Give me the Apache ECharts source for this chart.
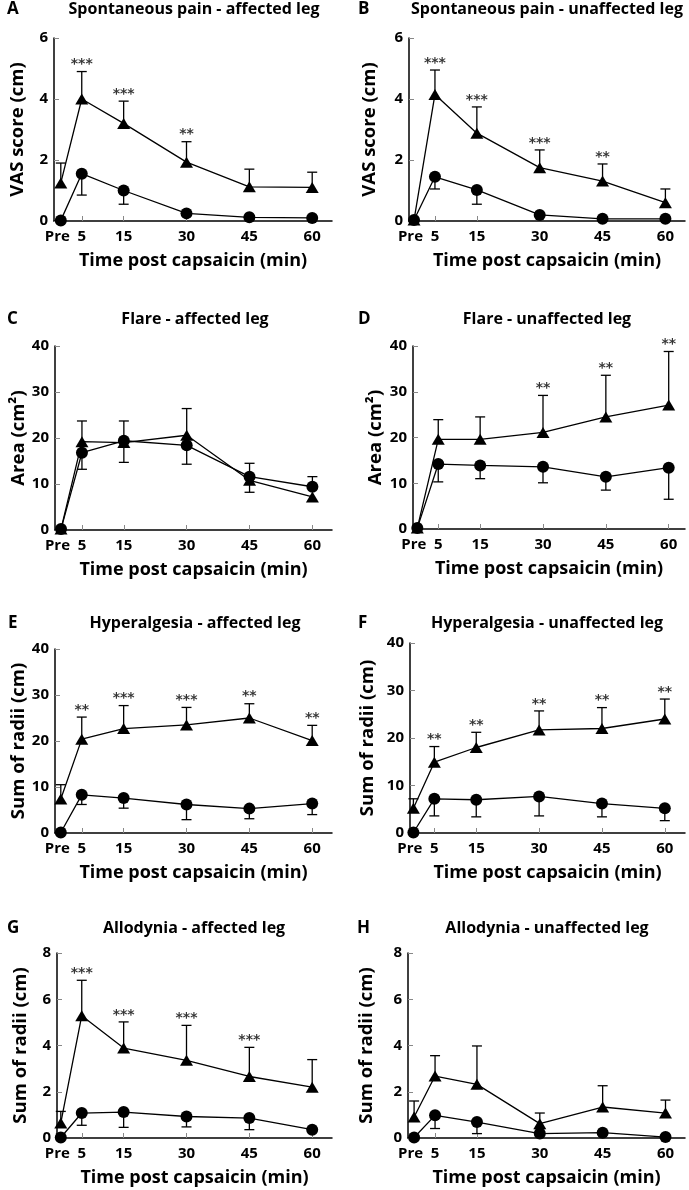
<!DOCTYPE html>
<html>
<head>
<meta charset="utf-8">
<script src="https://cdn.jsdelivr.net/npm/echarts@6/dist/echarts.min.js"></script>
<style>
  html, body { margin: 0; padding: 0; background: #fff; }
  #main { width: 689px; height: 1190px; }
</style>
</head>
<body>
<div id="main"></div>
<script>
// time points (Pre is drawn at 0 min)
const times = [0, 5, 15, 30, 45, 60];
const timeLabels = ['Pre', '5', '15', '30', '45', '60'];

// A - spontaneous pain, affected leg
const aTri = [1.25, 4.0, 3.2, 1.93, 1.12, 1.1];
const aTriCap = [1.9, 4.9, 3.93, 2.6, 1.7, 1.6];
const aCir = [0.02, 1.55, 1.0, 0.25, 0.12, 0.1];
const aCirCap = [null, 0.85, 0.55, null, null, null];
const aStars = ['', '***', '***', '**', '', ''];

// B - spontaneous pain, unaffected leg
const bTri = [0.03, 4.15, 2.88, 1.75, 1.31, 0.6];
const bTriCap = [null, 4.95, 3.74, 2.33, 1.87, 1.05];
const bCir = [0.03, 1.45, 1.02, 0.2, 0.07, 0.07];
const bCirCap = [null, 1.05, 0.55, null, null, null];
const bStars = ['', '***', '***', '***', '**', ''];

// C - flare, affected leg
const cTri = [0.2, 19.2, 19.0, 20.6, 10.8, 7.2];
const cTriCap = [null, 23.7, 23.7, 26.4, 14.5, null];
const cCir = [0.2, 16.8, 19.4, 18.4, 11.6, 9.4];
const cCirCap = [null, 13.2, 14.7, 14.3, 8.2, 11.6];
const cStars = ['', '', '', '', '', ''];

// D - flare, unaffected leg
const dTri = [0.2, 19.6, 19.6, 21.1, 24.5, 27.1];
const dTriCap = [null, 23.9, 24.5, 29.2, 33.6, 38.8];
const dCir = [0.2, 14.2, 13.9, 13.6, 11.4, 13.4];
const dCirCap = [null, 10.3, 11.0, 10.1, 8.5, 6.5];
const dStars = ['', '', '', '**', '**', '**'];

// E - hyperalgesia, affected leg
const eTri = [7.4, 20.4, 22.7, 23.5, 25.0, 20.1];
const eTriCap = [10.5, 25.2, 27.7, 27.3, 28.1, 23.4];
const eCir = [0.1, 8.3, 7.6, 6.2, 5.3, 6.4];
const eCirCap = [null, 6.2, 5.4, 2.9, 3.1, 4.0];
const eStars = ['', '**', '***', '***', '**', '**'];

// F - hyperalgesia, unaffected leg
const fTri = [5.2, 14.9, 18.0, 21.7, 22.0, 24.0];
const fTriCap = [7.2, 18.2, 21.2, 25.7, 26.4, 28.2];
const fCir = [0.1, 7.2, 7.0, 7.7, 6.2, 5.2];
const fCirCap = [null, 3.6, 3.4, 3.6, 3.4, 2.6];
const fStars = ['', '**', '**', '**', '**', '**'];

// G - allodynia, affected leg
const gTri = [0.65, 5.29, 3.89, 3.36, 2.66, 2.2];
const gTriCap = [1.15, 6.82, 5.02, 4.87, 3.92, 3.39];
const gCir = [0.02, 1.08, 1.12, 0.93, 0.86, 0.36];
const gCirCap = [null, 0.55, 0.46, 0.48, 0.36, null];
const gStars = ['', '***', '***', '***', '***', ''];

// H - allodynia, unaffected leg
const hTri = [0.91, 2.68, 2.32, 0.62, 1.34, 1.08];
const hTriCap = [1.6, 3.56, 3.98, 1.08, 2.26, 1.64];
const hCir = [0.02, 0.98, 0.69, 0.19, 0.23, 0.04];
const hCirCap = [null, 0.41, 0.19, null, null, null];
const hStars = ['', '', '', '', '', ''];

const panels = [
  { letter: 'A', title: 'Spontaneous pain - affected leg', yName: 'VAS score (cm)', yMax: 6, yStep: 2, tri: aTri, triCap: aTriCap, cir: aCir, cirCap: aCirCap, stars: aStars },
  { letter: 'B', title: 'Spontaneous pain - unaffected leg', yName: 'VAS score (cm)', yMax: 6, yStep: 2, tri: bTri, triCap: bTriCap, cir: bCir, cirCap: bCirCap, stars: bStars },
  { letter: 'C', title: 'Flare - affected leg', yName: 'Area (cm²)', yMax: 40, yStep: 10, tri: cTri, triCap: cTriCap, cir: cCir, cirCap: cCirCap, stars: cStars },
  { letter: 'D', title: 'Flare - unaffected leg', yName: 'Area (cm²)', yMax: 40, yStep: 10, tri: dTri, triCap: dTriCap, cir: dCir, cirCap: dCirCap, stars: dStars },
  { letter: 'E', title: 'Hyperalgesia - affected leg', yName: 'Sum of radii (cm)', yMax: 40, yStep: 10, tri: eTri, triCap: eTriCap, cir: eCir, cirCap: eCirCap, stars: eStars },
  { letter: 'F', title: 'Hyperalgesia - unaffected leg', yName: 'Sum of radii (cm)', yMax: 40, yStep: 10, tri: fTri, triCap: fTriCap, cir: fCir, cirCap: fCirCap, stars: fStars },
  { letter: 'G', title: 'Allodynia - affected leg', yName: 'Sum of radii (cm)', yMax: 8, yStep: 2, tri: gTri, triCap: gTriCap, cir: gCir, cirCap: gCirCap, stars: gStars },
  { letter: 'H', title: 'Allodynia - unaffected leg', yName: 'Sum of radii (cm)', yMax: 8, yStep: 2, tri: hTri, triCap: hTriCap, cir: hCir, cirCap: hCirCap, stars: hStars }
];

// panel placement in pixels
const layout = [
  { left: 54, top: 38, width: 278, height: 183, zeroX: 60.8, titleX: 194, titleY: 11, letterX: 7, nameDist: 37 },
  { left: 409, top: 38, width: 276, height: 183, zeroX: 414, titleX: 547, titleY: 11, letterX: 358, nameDist: 40 },
  { left: 55, top: 346, width: 277, height: 184, zeroX: 61, titleX: 195, titleY: 321, letterX: 7, nameDist: 32 },
  { left: 413, top: 346, width: 272, height: 183, zeroX: 417.3, titleX: 547, titleY: 321, letterX: 358, nameDist: 38 },
  { left: 55, top: 649, width: 277, height: 184, zeroX: 60.8, titleX: 195, titleY: 625, letterX: 8, nameDist: 35 },
  { left: 410, top: 643, width: 275, height: 190, zeroX: 413.4, titleX: 547, titleY: 625, letterX: 358, nameDist: 43 },
  { left: 57, top: 953, width: 275, height: 185, zeroX: 60.8, titleX: 194, titleY: 930, letterX: 7, nameDist: 37 },
  { left: 408, top: 953, width: 277, height: 185, zeroX: 414.1, titleX: 547, titleY: 930, letterX: 357, nameDist: 42 }
];
const pxPerMin = 4.19;
const font = '"Open Sans", Lato, sans-serif';

function renderErr(params, api) {
  const x = api.value(0), y = api.value(1), cap = api.value(2);
  const p0 = api.coord([x, y]);
  const p1 = api.coord([x, cap]);
  const hw = 5;
  const st = { stroke: '#000', lineWidth: 1.3 };
  return {
    type: 'group',
    children: [
      { type: 'line', shape: { x1: p0[0], y1: p0[1], x2: p1[0], y2: p1[1] }, style: st },
      { type: 'line', shape: { x1: p1[0] - hw, y1: p1[1], x2: p1[0] + hw, y2: p1[1] }, style: st }
    ]
  };
}

const titles = [], grids = [], xAxes = [], yAxes = [], series = [];

panels.forEach(function (p, i) {
  const L = layout[i];
  titles.push({
    text: p.title, left: L.titleX, top: L.titleY - 10, textAlign: 'center', padding: 0,
    textStyle: { fontFamily: font, fontWeight: 'bold', fontSize: 16, color: '#000' }
  });
  titles.push({
    text: p.letter, left: L.letterX, top: L.titleY - 10, padding: 0,
    textStyle: { fontFamily: font, fontWeight: 'bold', fontSize: 17, color: '#000' }
  });
  grids.push({ left: L.left, top: L.top, width: L.width, height: L.height, containLabel: false });
  xAxes.push({
    type: 'value', gridIndex: i,
    min: (L.left - L.zeroX) / pxPerMin,
    max: (L.left + L.width - L.zeroX) / pxPerMin,
    name: 'Time post capsaicin (min)', nameLocation: 'middle', nameGap: 31,
    nameTextStyle: { fontFamily: font, fontWeight: 'bold', fontSize: 18, color: '#000' },
    axisLine: { show: true, onZero: false, lineStyle: { color: '#000', width: 1.5 } },
    axisTick: { show: true, inside: true, length: 5, customValues: times, lineStyle: { color: '#888', width: 1 } },
    axisLabel: {
      customValues: times, margin: 8,
      fontFamily: font, fontWeight: 'bold', fontSize: 15, color: '#000',
      formatter: function (v) {
        const s = timeLabels[times.indexOf(v)];
        return v === 0 ? '{pre|' + s + '}' : s;
      },
      rich: { pre: { fontFamily: font, fontWeight: 'bold', fontSize: 15, color: '#000', padding: [0, 7, 0, 0] } }
    },
    splitLine: { show: false }
  });
  yAxes.push({
    type: 'value', gridIndex: i, min: 0, max: p.yMax, interval: p.yStep,
    name: p.yName, nameLocation: 'middle', nameRotate: 90, nameGap: L.nameDist - 10,
    nameTextStyle: { fontFamily: font, fontWeight: 'bold', fontSize: 18.5, color: '#000' },
    axisLine: { show: true, onZero: false, lineStyle: { color: '#000', width: 1.5 } },
    axisTick: { show: true, inside: true, length: 5, lineStyle: { color: '#888', width: 1 } },
    axisLabel: { margin: 6, fontFamily: font, fontWeight: 'bold', fontSize: 15, color: '#000' },
    splitLine: { show: false }
  });

  const errData = [];
  times.forEach(function (t, k) {
    if (p.triCap[k] != null) errData.push([t, p.tri[k], p.triCap[k]]);
    if (p.cirCap[k] != null) errData.push([t, p.cir[k], p.cirCap[k]]);
  });
  series.push({
    type: 'custom', xAxisIndex: i, yAxisIndex: i, renderItem: renderErr,
    data: errData, clip: false, z: 1, silent: true
  });
  series.push({
    type: 'line', xAxisIndex: i, yAxisIndex: i, clip: false, z: 3,
    data: times.map(function (t, k) { return [t, p.tri[k]]; }),
    symbol: 'triangle', symbolSize: [13, 11], showAllSymbol: true,
    lineStyle: { color: '#000', width: 1.3 }, itemStyle: { color: '#000' }
  });
  series.push({
    type: 'line', xAxisIndex: i, yAxisIndex: i, clip: false, z: 4,
    data: times.map(function (t, k) { return [t, p.cir[k]]; }),
    symbol: 'circle', symbolSize: 12, showAllSymbol: true,
    lineStyle: { color: '#000', width: 1.3 }, itemStyle: { color: '#000' }
  });
  const starData = [];
  times.forEach(function (t, k) {
    if (p.stars[k]) starData.push({ value: [t, p.triCap[k]], name: p.stars[k] });
  });
  series.push({
    type: 'scatter', xAxisIndex: i, yAxisIndex: i, clip: false, z: 5,
    symbolSize: 0, data: starData, silent: true,
    label: {
      show: true, position: 'top', distance: 0, formatter: '{b}',
      fontFamily: '"DejaVu Sans", sans-serif', fontWeight: 'bold', fontSize: 14, color: '#000'
    }
  });
});

const chart = echarts.init(document.getElementById('main'), null, { renderer: 'canvas' });
chart.setOption({
  backgroundColor: '#fff',
  animation: false,
  title: titles,
  grid: grids,
  xAxis: xAxes,
  yAxis: yAxes,
  series: series
});
</script>
</body>
</html>
